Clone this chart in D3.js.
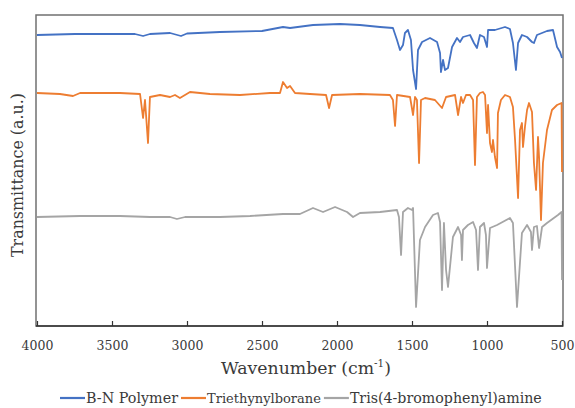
<!DOCTYPE html>
<html>
<head>
<meta charset="utf-8">
<script src="https://cdn.jsdelivr.net/npm/d3@7"></script>
<style>
  body { margin: 0; background: #fff; }
  svg text { font-family: "DejaVu Serif", "Liberation Serif", serif; fill: #3a3a3a; }
</style>
</head>
<body>
<div id="chart"></div>
<script>
var width = 575;
var height = 408;

// tick labels on the wavenumber axis
var xTicks = [4000, 3500, 3000, 2500, 2000, 1500, 1000, 500];

var seriesNames = ["B-N Polymer", "Triethynylborane", "Tris(4-bromophenyl)amine"];
var seriesColors = ["#4472C4", "#ED7D31", "#A5A5A5"];

// [wavenumber, transmittance (a.u., offset)]
var bnPolymer = [
  [4000, 291], [3747, 292], [3500, 292], [3347, 292], [3293, 290], [3247, 292],
  [3113, 293], [3040, 290], [3000, 292.5], [2780, 294], [2500, 295], [2360, 299],
  [2313, 298], [2160, 301], [1980, 302], [1847, 301], [1713, 299], [1627, 298],
  [1600, 286], [1580, 276], [1560, 281], [1547, 293], [1527, 296], [1507, 286],
  [1493, 256], [1473, 237], [1460, 276], [1433, 284], [1380, 288], [1333, 284],
  [1313, 273], [1307, 254], [1293, 266], [1280, 256], [1260, 258], [1233, 279],
  [1200, 288], [1180, 284], [1160, 289], [1113, 291], [1087, 283], [1067, 278],
  [1047, 291], [1020, 289], [1000, 279], [993, 296], [947, 296], [880, 299],
  [847, 297], [827, 283], [807, 256], [793, 283], [767, 291], [733, 289],
  [700, 284], [687, 283], [667, 291], [600, 295], [560, 296], [533, 279],
  [513, 274], [500, 268]
];

var triethynylborane = [
  [4000, 233], [3847, 232], [3760, 230], [3713, 233], [3447, 233], [3313, 232],
  [3293, 208], [3280, 226], [3260, 183], [3247, 229], [3180, 231], [3113, 229],
  [3080, 231], [3047, 228], [2980, 234], [2847, 232], [2647, 231], [2447, 233],
  [2380, 233], [2360, 244], [2333, 238], [2313, 240], [2280, 233], [2180, 232],
  [2073, 231], [2053, 218], [2033, 231], [1847, 232], [1647, 231], [1627, 226],
  [1613, 200], [1600, 231], [1513, 229], [1493, 211], [1480, 229], [1467, 226],
  [1453, 163], [1440, 226], [1413, 228], [1347, 226], [1300, 218], [1273, 229],
  [1213, 231], [1193, 211], [1173, 229], [1160, 223], [1140, 231], [1113, 231],
  [1093, 226], [1080, 161], [1067, 229], [1047, 233], [1027, 234], [1013, 231],
  [1000, 193], [993, 221], [980, 183], [967, 174], [960, 186], [947, 169],
  [933, 158], [927, 213], [907, 226], [880, 231], [847, 229], [827, 219],
  [813, 186], [793, 128], [780, 196], [767, 203], [760, 179], [747, 199],
  [733, 216], [720, 223], [700, 214], [687, 163], [673, 136], [660, 189],
  [653, 169], [640, 106], [627, 163], [600, 196], [567, 216], [533, 221],
  [503, 223], [500, 154]
];

var trisBromophenylamine = [
  [4000, 109], [3713, 110], [3447, 110], [3247, 109], [3113, 109], [3067, 107],
  [3013, 109], [2780, 109], [2580, 110], [2360, 112], [2247, 112], [2160, 118],
  [2093, 114], [2013, 119], [1933, 114], [1893, 109], [1847, 113], [1713, 114],
  [1600, 116], [1587, 109], [1573, 71], [1560, 114], [1527, 118], [1500, 116],
  [1493, 118], [1473, 19], [1447, 86], [1413, 99], [1360, 111], [1327, 113],
  [1313, 104], [1300, 36], [1287, 103], [1273, 56], [1260, 39], [1227, 89],
  [1193, 99], [1173, 91], [1167, 66], [1160, 96], [1127, 101], [1093, 104],
  [1073, 96], [1060, 56], [1047, 99], [1020, 103], [1007, 91], [1000, 58],
  [980, 98], [933, 101], [847, 108], [827, 103], [800, 19], [767, 93],
  [733, 101], [707, 94], [700, 76], [687, 99], [667, 100], [653, 78],
  [633, 99], [600, 103], [527, 111], [503, 114], [500, 46]
];

var allSeries = [bnPolymer, triethynylborane, trisBromophenylamine];

var plot = { left: 37, right: 562, top: 15, bottom: 326 };

var svg = d3.select("#chart")
    .append("svg")
    .attr("width", width)
    .attr("height", height);

// shrink/grow a text so it spans the width it has in the figure
function fitWidth(sel, target) {
    var node = sel.node();
    var size = parseFloat(sel.style("font-size"));
    var w = node.getComputedTextLength();
    if (w > 0) sel.style("font-size", (size * target / w).toFixed(2) + "px");
}

var x = d3.scaleLinear()
    .domain([4000, 500])
    .range([plot.left, plot.right]);

var y = d3.scaleLinear()
    .domain([0, 311])
    .range([plot.bottom, plot.top]);

// frame
svg.append("rect")
    .attr("x", plot.left - 1)
    .attr("y", plot.top)
    .attr("width", plot.right - plot.left + 2)
    .attr("height", plot.bottom - plot.top)
    .attr("fill", "none")
    .attr("stroke", "#707070")
    .attr("stroke-width", 1.5);

// spectra
var line = d3.line()
    .x(function(d) { return x(d[0]); })
    .y(function(d) { return y(d[1]); });

allSeries.forEach(function(data, i) {
    svg.append("path")
        .datum(data)
        .attr("fill", "none")
        .attr("stroke", seriesColors[i])
        .attr("stroke-width", 1.8)
        .attr("stroke-linejoin", "round")
        .attr("d", line);
});

// x axis with inward ticks
var xAxis = svg.append("g")
    .attr("transform", "translate(0," + plot.bottom + ")")
    .call(d3.axisBottom(x)
        .tickValues(xTicks)
        .tickSizeInner(-5)
        .tickSizeOuter(0)
        .tickPadding(15)
        .tickFormat(d3.format("d")));

xAxis.select(".domain")
    .attr("d", "M" + (plot.left - 1) + ",0H" + (plot.right + 1))
    .attr("stroke", "#333")
    .attr("stroke-width", 1.5);
xAxis.selectAll(".tick line").attr("stroke", "#333").attr("stroke-width", 1.2);
xAxis.selectAll(".tick text")
    .attr("font-family", null)
    .style("font-family", "'DejaVu Serif', 'Liberation Serif', serif")
    .style("font-size", "12.5px")
    .attr("fill", "#3a3a3a");

// axis titles
var xTitle = svg.append("text")
    .attr("x", 306)
    .attr("y", 374)
    .attr("text-anchor", "middle")
    .style("font-size", "20px");
xTitle.append("tspan").text("Wavenumber (cm");
xTitle.append("tspan").attr("dy", -7).style("font-size", "0.6em").text("-1");
xTitle.append("tspan").attr("dy", 7).text(")");
fitWidth(xTitle, 170);

var yTitle = svg.append("text")
    .attr("transform", "translate(23,175) rotate(-90)")
    .attr("text-anchor", "middle")
    .style("font-size", "20px")
    .text("Transmittance (a.u.)");
fitWidth(yTitle, 164);

// legend
var legendWidths = [92, 114, 192];
var legend = svg.append("g").attr("transform", "translate(60,398)");
var cursor = 0;
seriesNames.forEach(function(name, i) {
    legend.append("line")
        .attr("x1", cursor)
        .attr("x2", cursor + 25)
        .attr("y1", 0)
        .attr("y2", 0)
        .attr("stroke", seriesColors[i])
        .attr("stroke-width", 2.2);
    var t = legend.append("text")
        .attr("x", cursor + 26)
        .attr("y", 5)
        .style("font-size", "16px")
        .text(name);
    fitWidth(t, legendWidths[i]);
    cursor += 26 + t.node().getComputedTextLength() + 3;
});
</script>
</body>
</html>
